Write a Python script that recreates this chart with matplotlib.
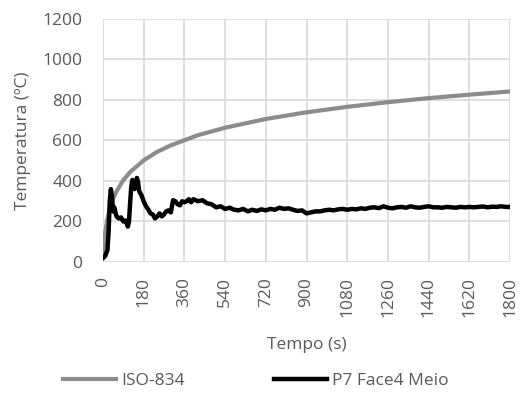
import matplotlib
matplotlib.use('Agg')
import matplotlib.pyplot as plt

# ISO-834 standard fire curve
iso_t = [0, 5, 10, 20, 30, 45, 60, 90, 120, 180, 240, 300, 420, 540, 720,
         900, 1080, 1260, 1440, 1620, 1800]
iso_T = [20, 97, 147, 215, 261, 312, 349, 404, 444, 502, 544, 576, 626, 663, 706,
         739, 766, 789, 809, 826, 842]

# P7 Face4 Meio thermocouple
p7_t = [0, 10, 20, 25, 30, 35, 40, 45, 50, 60, 70, 80, 90, 100, 110, 115,
        120, 125, 130, 135, 140, 145, 150, 155, 160, 170, 180, 190, 200, 210,
        220, 230, 240, 250, 260, 270, 280, 290, 300, 310, 320, 330, 340, 350,
        360, 370, 380, 390, 400, 420, 440, 460, 480, 500, 520, 540, 560, 580,
        600, 620, 640, 660, 680, 700, 720, 740, 760, 780, 800, 820, 840, 860,
        880, 900, 920, 940, 960, 980, 1000, 1020, 1040, 1060, 1080, 1100, 1120,
        1140, 1160, 1180, 1200, 1220, 1240, 1260, 1280, 1300, 1320, 1340, 1360,
        1380, 1400, 1420, 1440, 1460, 1480, 1500, 1520, 1540, 1560, 1580, 1600,
        1620, 1640, 1660, 1680, 1700, 1720, 1740, 1760, 1780, 1800]
p7_T = [20, 30, 60, 150, 300, 360, 320, 250, 270, 225, 215, 220, 200, 205, 175, 200,
        290, 370, 405, 390, 360, 380, 415, 395, 350, 330, 300, 275, 260, 240,
        235, 215, 225, 240, 225, 235, 250, 255, 245, 305, 300, 285, 280, 300,
        295, 300, 310, 295, 310, 300, 305, 290, 285, 270, 275, 262, 268, 258,
        255, 262, 250, 258, 252, 260, 255, 262, 258, 268, 262, 265, 258, 252,
        255, 240, 245, 250, 250, 255, 258, 255, 260, 262, 258, 262, 260,
        265, 262, 268, 270, 266, 275, 268, 265, 270, 272, 268, 275,
        270, 268, 272, 275, 270, 270, 268, 272, 270, 268, 272, 270,
        272, 270, 272, 274, 270, 273, 272, 275, 272, 272]

xticks = list(range(0, 1801, 180))
yticks = list(range(0, 1201, 200))

plt.rcParams['font.family'] = ['Open Sans', 'DejaVu Sans']
txt = '#595959'
fs = 12.5

fig = plt.figure(figsize=(5.2, 3.94), dpi=100)
ax = fig.add_axes([0.198, 0.335, 0.783, 0.617])

ax.plot(iso_t, iso_T, color='#8c8c8c', lw=3, label='ISO-834')
ax.plot(p7_t, p7_T, color='black', lw=3.2, label='P7 Face4 Meio')

ax.set_xlim(0, 1800)
ax.set_ylim(0, 1200)
ax.set_xticks(xticks)
ax.set_yticks(yticks)
ax.set_xticklabels([str(v) for v in xticks], rotation=90)
ax.grid(True, color='#d9d9d9', lw=1.2)
ax.set_axisbelow(True)
for s in ax.spines.values():
    s.set_visible(False)
ax.tick_params(length=0, labelsize=fs, colors=txt)
ax.tick_params(axis='y', pad=15)
ax.tick_params(axis='x', pad=11)

ax.set_xlabel('Tempo (s)', fontsize=fs, color=txt, labelpad=14)
ax.set_ylabel('Temperatura (ºC)', fontsize=fs, color=txt, labelpad=8)

fig.legend(loc='center', bbox_to_anchor=(0.492, 0.033), ncol=2, frameon=False,
           fontsize=fs, handlelength=3.05, columnspacing=5.1, handletextpad=0.3,
           labelcolor=txt, borderpad=0)

fig.savefig('out.png', dpi=100)
